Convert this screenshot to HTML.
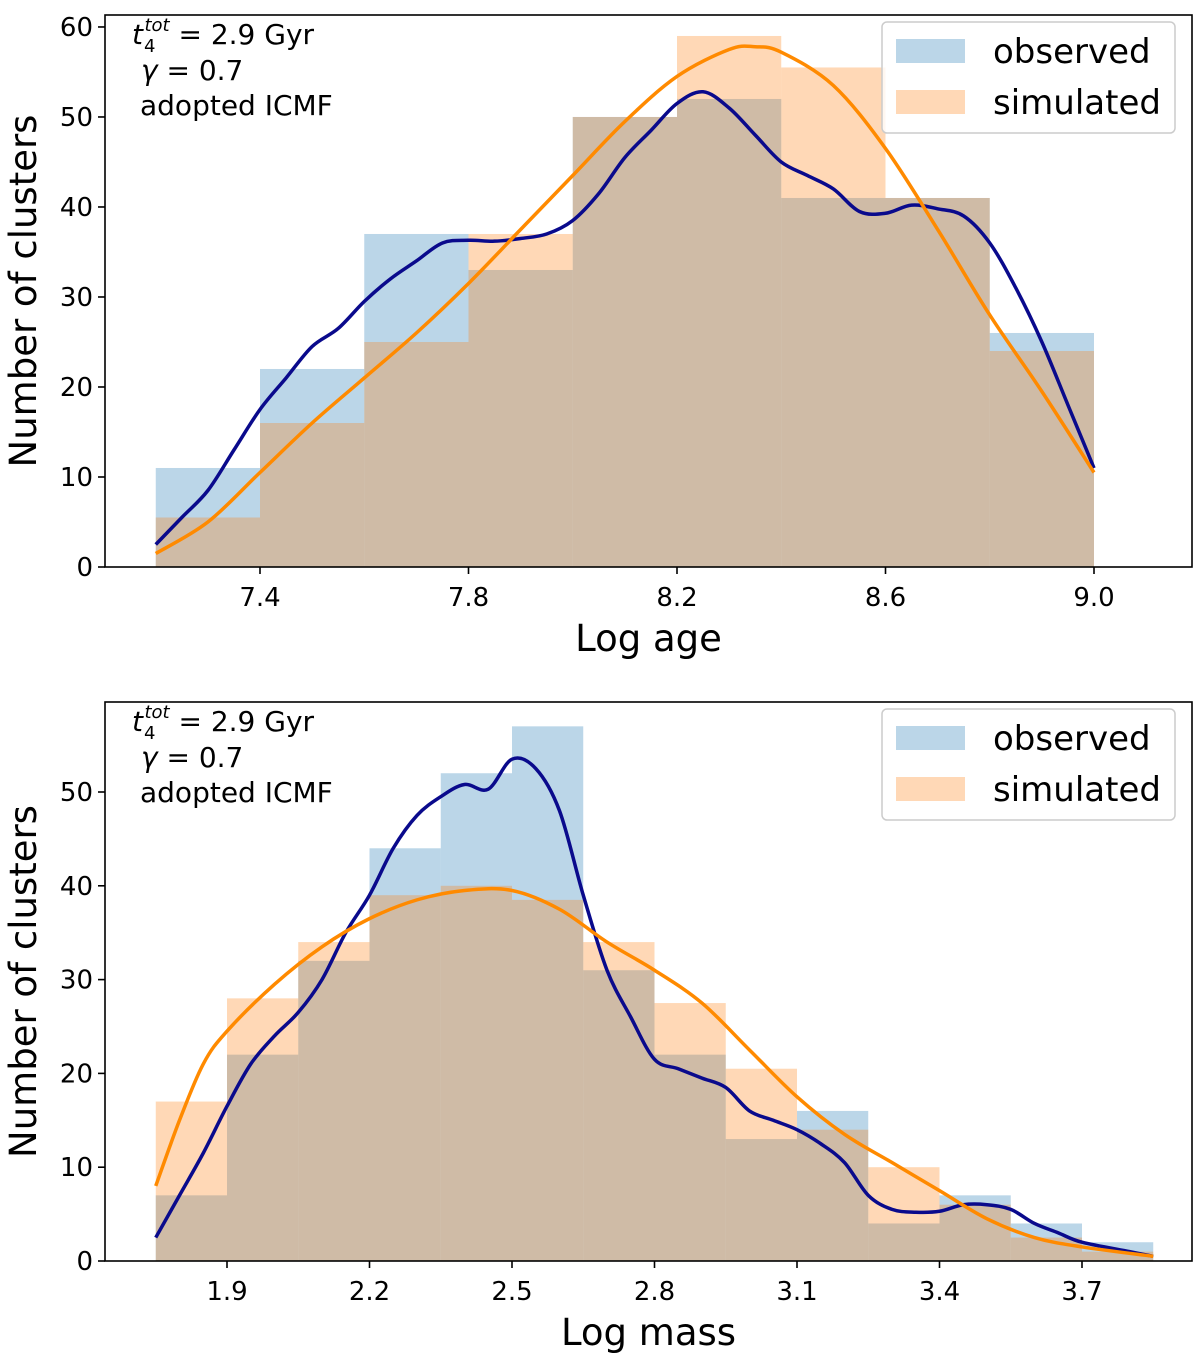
<!DOCTYPE html>
<html><head><meta charset="utf-8">
<style>
html,body{margin:0;padding:0;background:#fff;}
svg{display:block;font-family:"DejaVu Sans","Liberation Sans",sans-serif;}
</style></head>
<body>
<svg id="fig" width="1200" height="1360" viewBox="0 0 1200 1360"></svg>
<script>
// ---- Top panel data (Log age) ----
const ageBinEdges = [7.2,7.4,7.6,7.8,8.0,8.2,8.4,8.6,8.8,9.0];
const ageObserved = [11,22,37,33,50,52,41,41,26];
const ageSimulated = [5.5,16,25,37,50,59,55.5,41,24];
const ageObsCurveX = [7.2,7.25,7.3,7.35,7.4,7.45,7.5,7.55,7.6,7.65,7.7,7.75,7.8,7.85,7.9,7.95,8.0,8.05,8.1,8.15,8.2,8.25,8.3,8.35,8.4,8.45,8.5,8.55,8.6,8.65,8.7,8.75,8.8,8.85,8.9,8.95,9.0];
const ageObsCurveY = [2.5,5.5,8.5,13,17.5,21,24.5,26.5,29.5,32,34,36,36.3,36.2,36.5,37,38.5,41.5,45.5,48.5,51.5,52.8,51,48,45,43.5,42,39.5,39.3,40.2,39.8,39,36,31,25,18,11];
const ageSimCurveX = [7.2,7.3,7.4,7.5,7.6,7.7,7.8,7.9,8.0,8.1,8.2,8.3,8.35,8.4,8.5,8.6,8.7,8.8,8.9,9.0];
const ageSimCurveY = [1.5,5,10.5,16,21,26,31.5,37.5,43.5,49.5,54.5,57.5,57.8,57.2,53.5,46.5,37.5,28,19.5,10.5];
const ageXTicks = [7.4,7.8,8.2,8.6,9.0];
const ageXTickLabels = ["7.4","7.8","8.2","8.6","9.0"];
const ageYTicks = [0,10,20,30,40,50,60];

// ---- Bottom panel data (Log mass) ----
const massBinEdges = [1.75,1.9,2.05,2.2,2.35,2.5,2.65,2.8,2.95,3.1,3.25,3.4,3.55,3.7,3.85];
const massObserved = [7,22,32,44,52,57,31,22,13,16,4,7,4,2];
const massSimulated = [17,28,34,39,40,38.5,34,27.5,20.5,14,10,6,2.5,1];
const massObsCurveX = [1.75,1.8,1.85,1.9,1.95,2.0,2.05,2.1,2.15,2.2,2.25,2.3,2.35,2.4,2.45,2.5,2.55,2.6,2.65,2.7,2.75,2.8,2.85,2.9,2.95,3.0,3.05,3.1,3.15,3.2,3.25,3.3,3.35,3.4,3.45,3.5,3.55,3.6,3.65,3.7,3.8,3.85];
const massObsCurveY = [2.5,7,11.5,16.5,21,24,26.5,30,35,39,44,47.5,49.5,50.8,50.3,53.5,52.5,48,39,31,26,21.5,20.5,19.5,18.5,16,15,14,12.5,10.5,7,5.5,5.2,5.3,6,6,5.5,4,3,2,1,0.5];
const massSimCurveX = [1.75,1.8,1.85,1.9,2.0,2.1,2.2,2.3,2.4,2.5,2.6,2.7,2.8,2.9,3.0,3.1,3.2,3.3,3.4,3.5,3.6,3.7,3.85];
const massSimCurveY = [8,15,21,24.5,29.5,33.5,36.5,38.5,39.5,39.5,37.5,34,31,27.5,22.5,17.5,13.5,10.5,7.5,4.5,2.5,1.5,0.5];
const massXTicks = [1.9,2.2,2.5,2.8,3.1,3.4,3.7];
const massXTickLabels = ["1.9","2.2","2.5","2.8","3.1","3.4","3.7"];
const massYTicks = [0,10,20,30,40,50];

const NS = "http://www.w3.org/2000/svg";
const svg = document.getElementById('fig');
function mk(tag, attrs, parent){
  const e = document.createElementNS(NS, tag);
  for (const k in attrs) e.setAttribute(k, attrs[k]);
  (parent||svg).appendChild(e);
  return e;
}
function smoothPath(pts){
  let d = "M" + pts[0][0] + "," + pts[0][1];
  for (let i=0;i<pts.length-1;i++){
    const p0 = pts[Math.max(0,i-1)], p1 = pts[i], p2 = pts[i+1], p3 = pts[Math.min(pts.length-1,i+2)];
    const c1x = p1[0]+(p2[0]-p0[0])/6, c1y = p1[1]+(p2[1]-p0[1])/6;
    const c2x = p2[0]-(p3[0]-p1[0])/6, c2y = p2[1]-(p3[1]-p1[1])/6;
    d += " C"+c1x+","+c1y+" "+c2x+","+c2y+" "+p2[0]+","+p2[1];
  }
  return d;
}

function panel(o){
  const g = mk('g', {});
  
  
  const L=o.left, R=o.right, T=o.top, B=o.bottom;
  const xs = v => L + (v-o.xmin)/(o.xmax-o.xmin)*(R-L);
  const ys = v => B - (v-o.ymin)/(o.ymax-o.ymin)*(B-T);
  const series = [[o.obs,'#1f77b4','observed'],[o.sim,'#ff7f0e','simulated']];
  series.forEach(([vals,col,nm])=>{
    vals.forEach((v,i)=>{
      const x0=xs(o.edges[i]), x1=xs(o.edges[i+1]);
      const r = mk('rect',{x:x0,y:ys(v),width:x1-x0,height:ys(0)-ys(v),fill:col,'fill-opacity':0.3},g);
      
      
    });
  });
  const c1 = mk('path',{d:smoothPath(o.obsCx.map((x,i)=>[xs(x),ys(o.obsCy[i])])),fill:'none',stroke:'#0a0a8c','stroke-width':3.5},g);
  
  
  const c2 = mk('path',{d:smoothPath(o.simCx.map((x,i)=>[xs(x),ys(o.simCy[i])])),fill:'none',stroke:'#ff8a00','stroke-width':3.5},g);
  
  
  const fr = mk('rect',{x:L,y:T,width:R-L,height:B-T,fill:'none',stroke:'#000','stroke-width':1.6},g);
  
  
  o.xt.forEach((v,i)=>{
    const x=xs(v);
    mk('line',{x1:x,x2:x,y1:B,y2:B+7,stroke:'#000','stroke-width':1.6},g);
    const t=mk('text',{x:x,y:B+39,'text-anchor':'middle','font-size':26},g);
    t.textContent=o.xtl[i];
    
    
  });
  o.yt.forEach(v=>{
    const y=ys(v);
    mk('line',{x1:L-7,x2:L,y1:y,y2:y,stroke:'#000','stroke-width':1.6},g);
    const t=mk('text',{x:L-12,y:y+9,'text-anchor':'end','font-size':26},g);
    t.textContent=String(v);
    
    
  });
  const xl=mk('text',{x:(L+R)/2,y:B+84,'text-anchor':'middle','font-size':37},g);
  xl.textContent=o.xlabel;
  
  
  const yl=mk('text',{x:0,y:0,'text-anchor':'middle','font-size':37,transform:'translate(36,'+((T+B)/2)+') rotate(-90)'},g);
  yl.textContent='Number of clusters';
  
  
  const a=mk('text',{x:L+27,y:T+29,'font-size':28},g);
  
  
  a.innerHTML='<tspan font-style="italic">t</tspan><tspan font-size="18" dy="8" dx="1">4</tspan><tspan font-size="18" font-style="italic" dy="-21" dx="-11">tot</tspan><tspan dy="13"> = 2.9 Gyr</tspan>';
  const a2=mk('text',{x:L+36,y:T+65,'font-size':28},g);
  a2.innerHTML='<tspan font-style="italic">γ</tspan> = 0.7';
  
  
  const a3=mk('text',{x:L+35,y:T+100,'font-size':28},g);
  a3.textContent='adopted ICMF';
  
  
  const lg=mk('g',{},g);
  
  
  mk('rect',{x:882,y:T+7,width:293,height:111,rx:5,fill:'#fff','fill-opacity':0.8,stroke:'#ccc','stroke-width':1.5},lg);
  [['observed','#1f77b4',0],['simulated','#ff7f0e',1]].forEach(([nm,col,i])=>{
    const yy=T+24+i*51;
    const e=mk('g',{},lg);
    
    
    mk('rect',{x:896,y:yy,width:69,height:24,fill:col,'fill-opacity':0.3},e);
    const t=mk('text',{x:993,y:yy+24,'font-size':34},e);
    t.textContent=nm;
  });
}

panel({name:'age-panel',left:105,right:1192,top:15,bottom:567,xmin:7.4-155/521.25,xmax:9.0+98/521.25,ymin:0,ymax:61.33,
  edges:ageBinEdges,obs:ageObserved,sim:ageSimulated,obsCx:ageObsCurveX,obsCy:ageObsCurveY,simCx:ageSimCurveX,simCy:ageSimCurveY,
  xt:ageXTicks,xtl:ageXTickLabels,yt:ageYTicks,xlabel:'Log age'});
panel({name:'mass-panel',left:105,right:1192,top:702,bottom:1261,xmin:1.9-122/475,xmax:1.9+965/475,ymin:0,ymax:559/9.38,
  edges:massBinEdges,obs:massObserved,sim:massSimulated,obsCx:massObsCurveX,obsCy:massObsCurveY,simCx:massSimCurveX,simCy:massSimCurveY,
  xt:massXTicks,xtl:massXTickLabels,yt:massYTicks,xlabel:'Log mass'});
</script>
</body></html>
